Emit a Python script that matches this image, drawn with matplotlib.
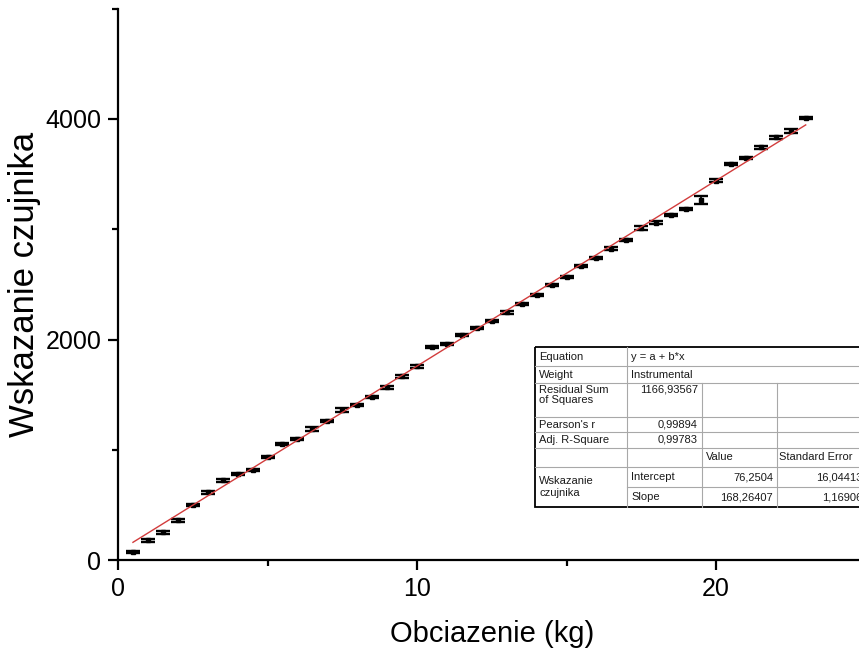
import numpy as np
import matplotlib
matplotlib.use("Agg")
import matplotlib.pyplot as plt
from matplotlib.patches import Rectangle

plt.rcParams['font.family'] = ['Liberation Sans', 'DejaVu Sans']

# measured data: load (kg) vs sensor reading
load_kg = [0.5, 1.0, 1.5, 2.0, 2.5, 3.0, 3.5, 4.0, 4.5, 5.0, 5.5, 6.0,
           6.5, 7.0, 7.5, 8.0, 8.5, 9.0, 9.5, 10.0, 10.5, 11.0, 11.5, 12.0,
           12.5, 13.0, 13.5, 14.0, 14.5, 15.0, 15.5, 16.0, 16.5, 17.0, 17.5,
           18.0, 18.5, 19.0, 19.5, 20.0, 20.5, 21.0, 21.5, 22.0, 22.5, 23.0]
reading = [73, 178, 251, 360, 496, 614, 723, 777, 819, 931, 1055, 1099,
           1191, 1264, 1361, 1403, 1476, 1566, 1666, 1757, 1929, 1956, 2041, 2101,
           2168, 2247, 2325, 2404, 2494, 2567, 2669, 2736, 2824, 2902, 3012,
           3060, 3132, 3184, 3265, 3441, 3592, 3649, 3743, 3834, 3891, 4012]
reading_err = [8, 12, 14, 15, 10, 14, 12, 10, 10, 10, 10, 12,
               18, 10, 16, 10, 10, 12, 12, 12, 8, 10, 10, 10,
               12, 12, 10, 10, 10, 10, 10, 10, 12, 12, 16,
               12, 10, 12, 35, 12, 10, 10, 14, 16, 18, 10]

# linear fit results (y = a + b*x)
fit_a = 76.2504
fit_b = 168.26407
fit_a_err = 16.04413
fit_b_err = 1.16906

table_labels = ["Equation", "Weight", "Residual Sum\nof Squares", "Pearson's r", "Adj. R-Square"]
table_values = ["y = a + b*x", "Instrumental", "1166,93567", "0,99894", "0,99783"]
param_group = "Wskazanie\nczujnika"
param_names = ["Intercept", "Slope"]
param_values = [fit_a, fit_b]
param_errors = [fit_a_err, fit_b_err]
col_headers = ["Value", "Standard Error"]


def pl_num(v, nd):
    return f"{v:.{nd}f}".replace(".", ",")


fig = plt.figure(figsize=(8.59, 6.5), dpi=100)
ax = fig.add_axes([118 / 859, 90 / 650, 747.5 / 859, 551.25 / 650])

ax.errorbar(load_kg, reading, yerr=reading_err, fmt='s', color='black',
            markersize=2.4, ecolor='black', elinewidth=1.3, capsize=5,
            capthick=1.7, zorder=3)

xfit = np.array([load_kg[0], load_kg[-1]])
ax.plot(xfit, fit_a + fit_b * xfit, color='#d23c3c', lw=1, zorder=4)

ax.set_xlim(0, 25)
ax.set_ylim(0, 5000)
ax.set_xticks([0, 10, 20])
ax.set_xticks([5, 15, 25], minor=True)
ax.set_yticks([0, 2000, 4000])
ax.set_yticks([1000, 3000, 5000], minor=True)
for s in ['top', 'right']:
    ax.spines[s].set_visible(False)
for s in ['left', 'bottom']:
    ax.spines[s].set_linewidth(1.6)
ax.tick_params(which='major', direction='out', length=7, width=1.6,
               labelsize=18, pad=5)
ax.tick_params(which='minor', direction='out', length=4, width=1.6)
ax.set_xlabel("Obciazenie (kg)", fontsize=21, labelpad=14)
ax.set_ylabel("Wskazanie czujnika", fontsize=25, labelpad=3)

# fit results table drawn in pixel coordinates on an overlay
tab = fig.add_axes([0, 0, 1, 1], zorder=10)
tab.set_xlim(0, 859)
tab.set_ylim(650, 0)
tab.axis('off')

cx = [535, 627, 702, 777, 866]
ry = [347, 366, 383, 417, 432, 448, 467, 487, 507]
grid_c = '#a8a8a8'
fs = 8
tc = '#1a1a1a'

tab.add_patch(Rectangle((cx[0], ry[0]), cx[4] - cx[0], ry[-1] - ry[0],
                        facecolor='white', edgecolor='none'))
for i, y in enumerate(ry[1:-1], start=1):
    x0 = cx[1] if i == 7 else cx[0]
    tab.plot([x0, cx[4]], [y, y], color=grid_c, lw=0.8)
tab.plot([cx[1], cx[1]], [ry[0], ry[-1]], color=grid_c, lw=0.8)
for x in cx[2:4]:
    tab.plot([x, x], [ry[2], ry[-1]], color=grid_c, lw=0.8)
tab.add_patch(Rectangle((cx[0], ry[0]), cx[4] - cx[0], ry[-1] - ry[0],
                        facecolor='none', edgecolor='black', lw=1.3))

for i, (lab, val) in enumerate(zip(table_labels, table_values)):
    top, bot = ry[i], ry[i + 1]
    if i == 2:
        tab.text(cx[0] + 4, top + 2, lab, fontsize=fs, color=tc, va='top',
                 linespacing=1.0)
        tab.text(cx[2] - 4, top + 2, val, fontsize=fs, color=tc, va='top', ha='right')
        continue
    yc = (top + bot) / 2
    tab.text(cx[0] + 4, yc, lab, fontsize=fs, color=tc, va='center')
    if i < 2:
        tab.text(cx[1] + 4, yc, val, fontsize=fs, color=tc, va='center')
    else:
        tab.text(cx[2] - 4, yc, val, fontsize=fs, color=tc, va='center', ha='right')

yc = (ry[5] + ry[6]) / 2
tab.text(cx[2] + 4, yc, col_headers[0], fontsize=fs, color=tc, va='center')
tab.text(cx[3] + 2, yc, col_headers[1], fontsize=fs, color=tc, va='center')

tab.text(cx[0] + 4, (ry[6] + ry[8]) / 2, param_group, fontsize=fs, color=tc,
         va='center', linespacing=1.3)
for k in range(2):
    yc = (ry[6 + k] + ry[7 + k]) / 2
    tab.text(cx[1] + 4, yc, param_names[k], fontsize=fs, color=tc, va='center')
    tab.text(cx[3] - 4, yc, pl_num(param_values[k], 5 if k else 4), fontsize=fs,
             color=tc, va='center', ha='right')
    tab.text(cx[4] - 4, yc, pl_num(param_errors[k], 5), fontsize=fs,
             color=tc, va='center', ha='right')

fig.savefig("out.png", dpi=100)
